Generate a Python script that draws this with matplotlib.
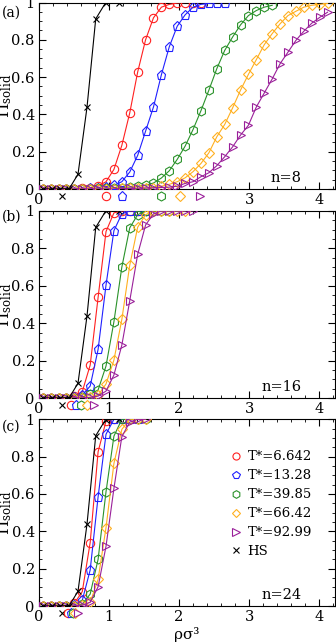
import numpy as np
import matplotlib
matplotlib.use("Agg")
import matplotlib.pyplot as plt
from matplotlib.ticker import MultipleLocator

plt.rcParams['font.family'] = ['DejaVu Serif']
plt.rcParams['mathtext.fontset'] = 'dejavuserif'

# density grid (rho sigma^3) shared by the finite-T series
rho = [0.053, 0.166, 0.279, 0.392, 0.505, 0.618, 0.731, 0.844, 0.957, 1.070,
       1.183, 1.296, 1.409, 1.522, 1.635, 1.748, 1.861, 1.974, 2.087, 2.200,
       2.313, 2.426, 2.539, 2.652, 2.765, 2.878, 2.991, 3.104, 3.217, 3.330,
       3.443, 3.556, 3.669, 3.782, 3.895, 4.008, 4.121]

# hard-sphere reference (same in every panel)
rho_hs = [0.057, 0.182, 0.307, 0.432, 0.557, 0.686, 0.810, 0.950, 1.140]
pi_hs = [0.0, 0.0, 0.0, 0.002, 0.079, 0.440, 0.912, 0.998, 1.0]

labels = ["T*=6.642", "T*=13.28", "T*=39.85", "T*=66.42", "T*=92.99"]
colors = ["#ff2020", "#2020ff", "#2a922a", "#ffb020", "#9a209a"]
markers = ["o", "p", "h", "D", ">"]
msizes = [6.0, 6.5, 6.5, 5.0, 6.0]

# panel (a) n=8
pi_a = [
    [0, 0, 0, 0, 0, 0.003, 0.006, 0.016, 0.039, 0.105, 0.234, 0.408, 0.627, 0.800,
     0.918, 0.975, 0.990, 0.997, 1.0, 1.0, 1.0],
    [0, 0, 0, 0, 0, 0, 0.003, 0.008, 0.012, 0.020, 0.039, 0.091, 0.180, 0.310,
     0.440, 0.613, 0.763, 0.873, 0.934, 0.975, 0.990, 0.995, 1.0, 1.0],
    [0, 0, 0, 0, 0, 0, 0, 0.003, 0.005, 0.007, 0.008, 0.010, 0.015, 0.020, 0.032,
     0.059, 0.098, 0.159, 0.230, 0.319, 0.420, 0.530, 0.645, 0.743, 0.815, 0.880,
     0.930, 0.957, 0.975, 0.985],
    [0, 0, 0, 0, 0, 0, 0, 0, 0, 0.002, 0.003, 0.004, 0.005, 0.006, 0.008, 0.015,
     0.025, 0.039, 0.060, 0.093, 0.137, 0.194, 0.280, 0.346, 0.435, 0.530, 0.615,
     0.694, 0.774, 0.833, 0.886, 0.930, 0.953, 0.975, 0.985, 0.990, 0.995],
    [0, 0, 0, 0, 0, 0, 0, 0, 0, 0, 0.002, 0.003, 0.004, 0.005, 0.006, 0.008, 0.010,
     0.015, 0.030, 0.039, 0.066, 0.087, 0.125, 0.173, 0.226, 0.289, 0.342, 0.440,
     0.515, 0.590, 0.672, 0.734, 0.797, 0.846, 0.889, 0.920, 0.948],
]
# panel (b) n=16
pi_b = [
    [0, 0, 0, 0, 0.010, 0.034, 0.176, 0.538, 0.890, 0.990, 1.0, 1.0, 1.0],
    [0, 0, 0, 0, 0.003, 0.015, 0.064, 0.260, 0.604, 0.895, 0.985, 1.0, 1.0, 1.0],
    [0, 0, 0, 0, 0, 0.005, 0.020, 0.043, 0.171, 0.408, 0.700, 0.910, 0.980, 1.0,
     1.0, 1.0, 1.0],
    [0, 0, 0, 0, 0, 0, 0.005, 0.015, 0.075, 0.203, 0.420, 0.710, 0.913, 0.980, 1.0,
     1.0, 1.0, 1.0, 1.0],
    [0, 0, 0, 0, 0, 0, 0.003, 0.010, 0.037, 0.123, 0.283, 0.520, 0.768, 0.925,
     0.985, 1.0, 1.0, 1.0, 1.0, 1.0],
]
# panel (c) n=24
pi_c = [
    [0, 0, 0, 0, 0.015, 0.077, 0.340, 0.826, 0.990, 1.0, 1.0, 1.0],
    [0, 0, 0, 0, 0.005, 0.030, 0.193, 0.585, 0.920, 1.0, 1.0, 1.0, 1.0],
    [0, 0, 0, 0, 0, 0.010, 0.064, 0.250, 0.612, 0.910, 1.0, 1.0, 1.0, 1.0],
    [0, 0, 0, 0, 0, 0.005, 0.020, 0.143, 0.420, 0.764, 0.946, 1.0, 1.0, 1.0],
    [0, 0, 0, 0, 0, 0.004, 0.020, 0.103, 0.320, 0.630, 0.907, 0.985, 1.0, 1.0],
]
# transition-density markers drawn below the axis: [HS, T1..T5]
trans_a = [0.333, 0.957, 1.190, 1.743, 2.014, 2.300]
trans_b = [0.333, 0.452, 0.530, 0.600, 0.690, 0.790]
trans_c = [0.333, 0.420, 0.450, 0.490, 0.520, 0.550]

panels = [("(a)", "n=8", pi_a, trans_a),
          ("(b)", "n=16", pi_b, trans_b),
          ("(c)", "n=24", pi_c, trans_c)]

W, H = 336, 643
fig = plt.figure(figsize=(W / 100, H / 100), dpi=100)
left = 39 / W
width = 295.5 / W
tops = [2.5, 211, 419.3]
bottoms = [189, 398, 606]
tag_y = [13, 217, 427]

for i, (tag, ntxt, pis, trans) in enumerate(panels):
    ax = fig.add_axes([left, 1 - bottoms[i] / H, width, (bottoms[i] - tops[i]) / H])
    ax.plot(rho_hs, pi_hs, color="black", lw=0.8, marker="x", ms=5, mew=0.8,
            label="HS", zorder=5)
    for j in range(5):
        y = pis[j]
        ax.plot(rho[:len(y)], y, color=colors[j], lw=0.8, marker=markers[j],
                ms=msizes[j], mfc="none", mec=colors[j], mew=0.8,
                label=labels[j], zorder=4)
    # transition markers below the axis
    ax.plot([trans[0]], [-0.04], ls="none", marker="x", color="black", ms=5,
            mew=0.8, clip_on=False, zorder=6)
    for j in range(5):
        ax.plot([trans[j + 1]], [-0.04], ls="none", marker=markers[j],
                ms=msizes[j], mfc="white", mec=colors[j], mew=0.8,
                clip_on=False, zorder=6)
    ax.set_xlim(0, 4.22)
    ax.set_ylim(0, 1)
    ax.xaxis.set_major_locator(MultipleLocator(1))
    ax.xaxis.set_minor_locator(MultipleLocator(0.2))
    ax.yaxis.set_major_locator(MultipleLocator(0.2))
    ax.yaxis.set_minor_locator(MultipleLocator(0.05))
    ax.tick_params(which="both", direction="in", top=True, right=True,
                   labelsize=10.5, pad=3)
    ax.tick_params(which="major", length=5, width=0.8)
    ax.tick_params(which="minor", length=2.5, width=0.6)
    ax.set_yticks([0, 0.2, 0.4, 0.6, 0.8, 1.0])
    ax.set_yticklabels(["0", "0.2", "0.4", "0.6", "0.8", "1"])
    ax.set_xticks([0, 1, 2, 3, 4])
    if i == 0:
        ax.set_xticklabels(["0", "", "", "3", "4"])
    else:
        ax.set_xticklabels(["0", "1", "2", "3", "4"])
    for s in ax.spines.values():
        s.set_linewidth(0.8)
    ax.set_ylabel(r"$\Pi_{\rm solid}$", fontsize=12)
    ax.yaxis.set_label_coords(-0.085, 0.5)
    ax.text(0.89, 0.04, ntxt, transform=ax.transAxes, ha="right",
            va="baseline", fontsize=10.5)
    fig.text(2 / W, 1 - tag_y[i] / H, tag, fontsize=10, ha="left",
             va="center")
    if i == 2:
        ax.set_xlabel("ρσ³", fontsize=11, labelpad=2)
        h, l = ax.get_legend_handles_labels()
        order = [1, 2, 3, 4, 5, 0]
        hh = []
        for k in order:
            ln = h[k]
            hh.append(plt.Line2D([], [], ls="none", marker=ln.get_marker(),
                                 ms=ln.get_markersize() * 0.85,
                                 mfc="none", mec=ln.get_color() if k else "black",
                                 color=ln.get_color(), mew=0.8))
        ax.legend(hh, [l[k] for k in order], loc="center left",
                  bbox_to_anchor=(0.63, 0.545), frameon=False, fontsize=9.5,
                  handlelength=0.8, handletextpad=0.5, labelspacing=0.45,
                  borderaxespad=0)

fig.savefig("out.png", dpi=100)
